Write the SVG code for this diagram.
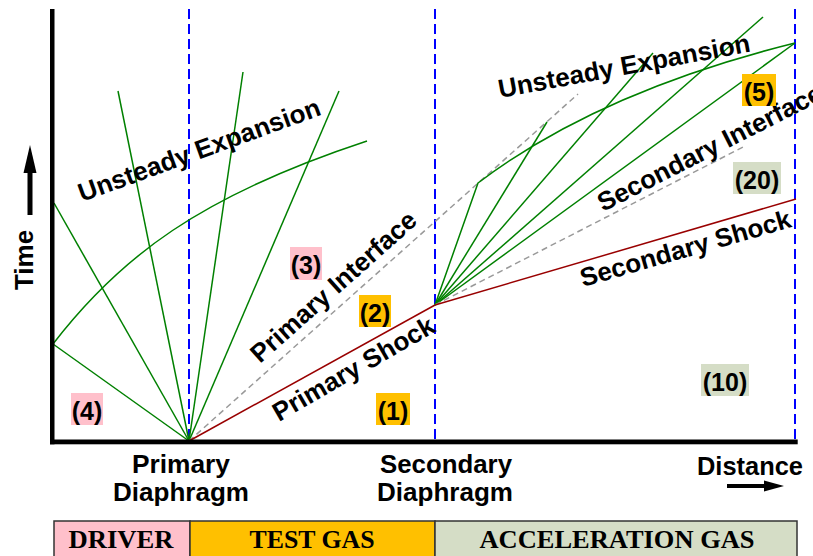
<svg xmlns="http://www.w3.org/2000/svg" width="813" height="556" viewBox="0 0 813 556">
  <style>
    .lbl { font-family: "Liberation Sans", Arial, sans-serif; font-weight: bold; fill: #000; }
    .big { font-size: 26px; }
    .axis-lbl { font-size: 25px; text-anchor: middle; }
    .num { font-size: 25px; text-anchor: middle; }
    .gas { font-family: "Liberation Serif", "Times New Roman", serif; font-weight: bold; font-size: 25px; text-anchor: middle; fill: #000; }
    .wave { stroke: #008000; stroke-width: 1.5; fill: none; }
    .shock { stroke: #990000; stroke-width: 1.5; fill: none; }
    .iface { stroke: #999999; stroke-width: 1.5; stroke-dasharray: 6 4; fill: none; }
    .diaph { stroke: #0000ff; stroke-width: 2; stroke-dasharray: 10 5; fill: none; }
    .pink { fill: #ffc0cb; }
    .orange { fill: #ffc000; }
    .sage { fill: #d5ddc6; }
    .box { stroke: #333333; stroke-width: 1.5; }
  </style>

  <rect width="813" height="556" fill="#ffffff"/>

  <!-- diaphragm stations and end wall -->
  <g id="diaphragms">
    <line class="diaph" x1="189" y1="9" x2="189" y2="441"/>
    <line class="diaph" x1="435" y1="9" x2="435" y2="441"/>
    <line class="diaph" x1="795" y1="9" x2="795" y2="441"/>
  </g>

  <!-- wave paths in the x-t plane -->
  <g id="connectors">
    <!-- primary expansion fan -->
    <line class="wave" x1="189" y1="441" x2="54" y2="203"/>
    <line class="wave" x1="189" y1="441" x2="118" y2="91"/>
    <line class="wave" x1="189" y1="441" x2="243" y2="72"/>
    <line class="wave" x1="189" y1="441" x2="339" y2="91"/>
    <line class="wave" x1="189" y1="441" x2="53" y2="344"/>
    <path class="wave" d="M53,344 C120,257 200,196 367,141"/>
    <!-- primary interface and shock -->
    <line class="iface" x1="189" y1="441" x2="578" y2="94"/>
    <line class="shock" x1="189" y1="441" x2="435" y2="305"/>
    <!-- secondary expansion fan -->
    <path class="wave" d="M435,305 L478,183 Q598,92 795,43"/>
    <line class="wave" x1="435" y1="305" x2="547" y2="122"/>
    <line class="wave" x1="435" y1="305" x2="653" y2="53"/>
    <line class="wave" x1="435" y1="305" x2="763" y2="17"/>
    <line class="wave" x1="435" y1="305" x2="795" y2="43"/>
    <!-- secondary interface and shock -->
    <line class="iface" x1="435" y1="305" x2="745" y2="146"/>
    <line class="shock" x1="435" y1="305" x2="796" y2="199"/>
  </g>

  <!-- axes -->
  <g id="axes">
    <rect x="50" y="9" width="4.5" height="435.3" fill="#000"/>
    <rect x="50" y="439.5" width="747.7" height="4.8" fill="#000"/>
    <!-- time arrow -->
    <rect x="27.5" y="171" width="5" height="44" fill="#000"/>
    <polygon points="30,145 23.5,173 36.5,173" fill="#000"/>
    <text class="lbl" font-size="26" text-anchor="middle" transform="translate(33,260) rotate(-90)">Time</text>
    <!-- distance arrow -->
    <rect x="727" y="484" width="40" height="4" fill="#000"/>
    <polygon points="764,480.5 784,486 764,491.5" fill="#000"/>
    <text class="lbl axis-lbl" x="750" y="475" textLength="106" lengthAdjust="spacingAndGlyphs">Distance</text>
  </g>

  <!-- station labels -->
  <g id="primary-diaphragm-label">
    <text class="lbl axis-lbl" x="181" y="473" textLength="98" lengthAdjust="spacingAndGlyphs">Primary</text>
    <text class="lbl axis-lbl" x="181" y="501" textLength="136" lengthAdjust="spacingAndGlyphs">Diaphragm</text>
  </g>
  <g id="secondary-diaphragm-label">
    <text class="lbl axis-lbl" x="446" y="473" textLength="132" lengthAdjust="spacingAndGlyphs">Secondary</text>
    <text class="lbl axis-lbl" x="445" y="501" textLength="136" lengthAdjust="spacingAndGlyphs">Diaphragm</text>
  </g>

  <!-- wave labels -->
  <g id="wave-labels">
    <text class="lbl big" transform="translate(82,202) rotate(-20)">Unsteady Expansion</text>
    <text class="lbl big" transform="translate(500,98) rotate(-10.5)">Unsteady Expansion</text>
    <text class="lbl big" transform="translate(260,364) rotate(-41.7)">Primary Interface</text>
    <text class="lbl big" transform="translate(279,422) rotate(-30)">Primary Shock</text>
    <text class="lbl big" transform="translate(603,212) rotate(-27)">Secondary Interface</text>
    <text class="lbl big" transform="translate(583,287) rotate(-16)">Secondary Shock</text>
  </g>

  <!-- gas state regions -->
  <g id="state-4"><rect class="pink" x="71" y="393" width="32" height="32"/><text class="lbl num" x="87" y="419.5">(4)</text></g>
  <g id="state-3"><rect class="pink" x="290" y="247" width="32" height="33"/><text class="lbl num" x="306" y="273.5">(3)</text></g>
  <g id="state-2"><rect class="orange" x="359" y="295" width="32" height="32"/><text class="lbl num" x="375" y="321.5">(2)</text></g>
  <g id="state-1"><rect class="orange" x="376" y="393" width="34" height="32"/><text class="lbl num" x="393" y="419.5">(1)</text></g>
  <g id="state-10"><rect class="sage" x="701" y="364" width="48" height="32"/><text class="lbl num" x="725" y="390.5">(10)</text></g>
  <g id="state-20"><rect class="sage" x="733" y="162" width="48" height="32"/><text class="lbl num" x="757" y="188.5">(20)</text></g>
  <g id="state-5"><rect class="orange" x="742" y="74" width="34" height="32"/><text class="lbl num" x="759" y="100.5">(5)</text></g>

  <!-- tube sections -->
  <g id="driver"><rect class="pink box" x="54" y="521" width="136" height="45"/><text class="gas" x="121" y="548" textLength="105" lengthAdjust="spacingAndGlyphs">DRIVER</text></g>
  <g id="test-gas"><rect class="orange box" x="190" y="521" width="245" height="45"/><text class="gas" x="312" y="548" textLength="125" lengthAdjust="spacingAndGlyphs">TEST GAS</text></g>
  <g id="acceleration-gas"><rect class="sage box" x="435" y="521" width="362" height="45"/><text class="gas" x="617" y="548" textLength="275" lengthAdjust="spacingAndGlyphs">ACCELERATION GAS</text></g>
</svg>
